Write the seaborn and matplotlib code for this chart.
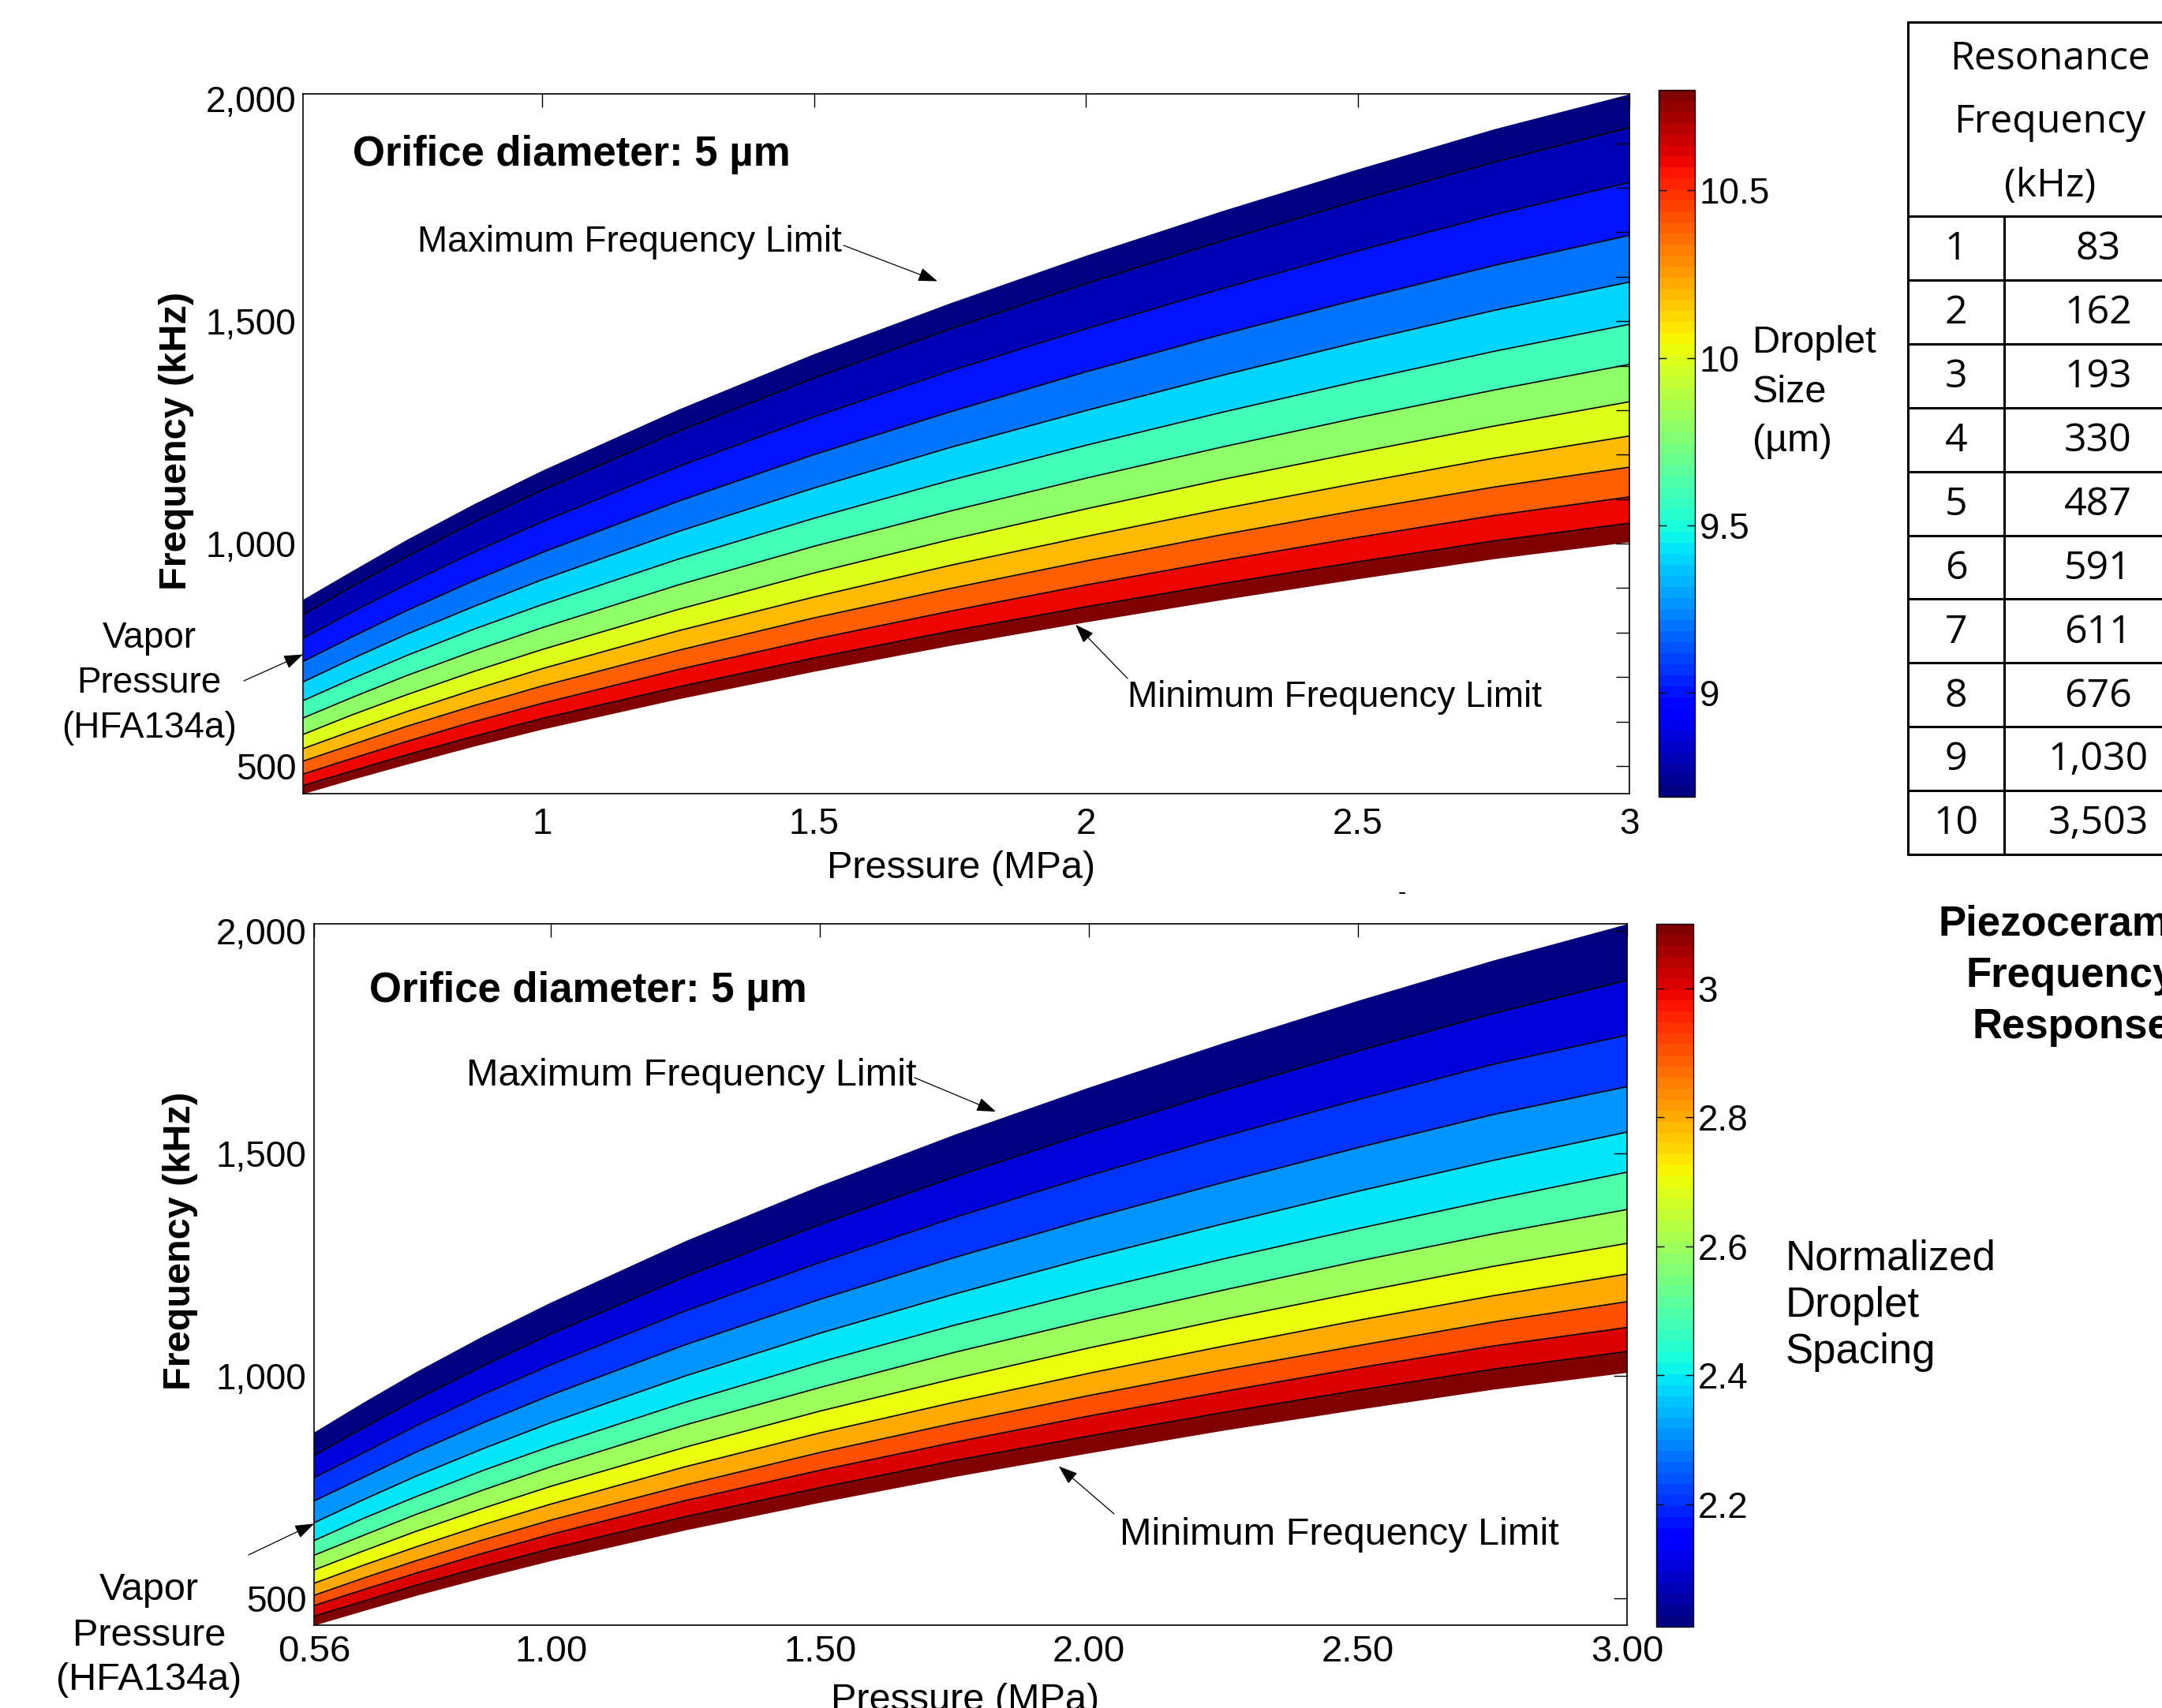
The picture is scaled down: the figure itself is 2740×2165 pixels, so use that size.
import matplotlib
matplotlib.use("Agg")
import matplotlib as mpl
import matplotlib.pyplot as plt
from matplotlib.lines import Line2D
from matplotlib.ticker import MultipleLocator, FuncFormatter
import seaborn as sns

# ---------------- data ----------------
pressure_mpa = [0.56, 0.65, 0.75, 0.875, 1.0, 1.25, 1.5, 1.75, 2.0, 2.25, 2.5, 2.75, 3.0]

# Droplet-size map: band boundaries (kHz), from max-frequency limit down to min-frequency limit
size_curves_khz = [
    [875, 939, 1009, 1090, 1165, 1302, 1427, 1541, 1648, 1748, 1842, 1932, 2011],
    [840, 903, 970, 1048, 1120, 1252, 1372, 1482, 1584, 1680, 1771, 1857, 1935],
    [787, 846, 908, 981, 1049, 1173, 1285, 1388, 1483, 1573, 1658, 1739, 1812],
    [735, 790, 849, 917, 980, 1095, 1200, 1296, 1386, 1470, 1549, 1625, 1693],
    [689, 741, 796, 859, 919, 1027, 1125, 1216, 1299, 1378, 1453, 1524, 1588],
    [647, 696, 748, 808, 863, 965, 1057, 1142, 1221, 1295, 1365, 1432, 1493],
    [608, 654, 703, 759, 811, 907, 994, 1073, 1147, 1217, 1283, 1345, 1403],
    [571, 615, 660, 713, 762, 852, 934, 1009, 1078, 1144, 1205, 1264, 1319],
    [539, 579, 622, 672, 719, 804, 880, 951, 1016, 1078, 1136, 1192, 1242],
    [511, 548, 589, 636, 680, 760, 833, 899, 961, 1020, 1075, 1127, 1172],
    [482, 517, 555, 600, 641, 717, 785, 848, 907, 962, 1014, 1063, 1105],
    [456, 489, 525, 567, 607, 678, 743, 803, 858, 910, 959, 1006, 1046],
    [438, 470, 504, 545, 583, 651, 713, 771, 824, 874, 921, 966, 1004],
]
size_band_values = [8.69, 8.8, 9.0, 9.2, 9.4, 9.6, 9.8, 10.0, 10.2, 10.4, 10.6, 10.8]
size_clim = [8.69, 10.80]
size_cbar_ticks = [9, 9.5, 10, 10.5]

# Normalized droplet-spacing map
spacing_curves_khz = [
    [874, 940, 1010, 1091, 1166, 1304, 1428, 1543, 1649, 1749, 1844, 1934, 2016],
    [821, 882, 947, 1023, 1094, 1223, 1340, 1447, 1547, 1641, 1730, 1814, 1889],
    [771, 826, 888, 959, 1025, 1146, 1255, 1356, 1450, 1538, 1621, 1700, 1766],
    [719, 771, 829, 895, 957, 1070, 1172, 1266, 1353, 1435, 1513, 1587, 1650],
    [670, 721, 775, 837, 895, 1000, 1096, 1184, 1266, 1342, 1415, 1484, 1548],
    [630, 679, 729, 788, 842, 941, 1031, 1114, 1191, 1263, 1331, 1396, 1458],
    [597, 641, 689, 744, 796, 890, 974, 1053, 1125, 1193, 1258, 1319, 1374],
    [564, 606, 651, 703, 752, 840, 921, 994, 1063, 1127, 1188, 1246, 1298],
    [534, 574, 616, 666, 712, 796, 872, 941, 1006, 1067, 1125, 1180, 1229],
    [507, 545, 585, 632, 676, 755, 828, 894, 956, 1014, 1068, 1121, 1167],
    [484, 519, 557, 602, 644, 720, 788, 851, 910, 965, 1018, 1067, 1109],
    [460, 493, 530, 572, 612, 684, 749, 810, 865, 918, 968, 1015, 1055],
    [440, 472, 507, 547, 585, 654, 716, 774, 827, 878, 925, 970, 1008],
]
spacing_band_values = [2.01, 2.1, 2.2, 2.3, 2.4, 2.5, 2.6, 2.7, 2.8, 2.9, 3.0, 3.1]
spacing_clim = [2.01, 3.10]
spacing_cbar_ticks = [2.2, 2.4, 2.6, 2.8, 3.0]

top_xticks = [1, 1.5, 2, 2.5, 3]
bottom_xticks = [0.56, 1.0, 1.5, 2.0, 2.5, 3.0]
bottom_yticks = [500, 1000, 1500, 2000]

table_header = ["Resonance", "Frequency", "(kHz)"]
table_mode = [1, 2, 3, 4, 5, 6, 7, 8, 9, 10]
table_freq = ["83", "162", "193", "330", "487", "591", "611", "676", "1,030", "3,503"]

# ---------------- style ----------------
sns.set_style("white")
plt.rcParams["font.family"] = ["Liberation Sans", "DejaVu Sans"]
plt.rcParams.update({
    "axes.edgecolor": "black", "text.color": "black", "axes.labelcolor": "black",
    "xtick.color": "black", "ytick.color": "black",
})

W, H = 2740, 2165
fig = plt.figure(figsize=(W / 100, H / 100), dpi=100)
fig.patch.set_facecolor("white")


def rect(x0, y0, x1, y1):
    return [x0 / W, 1 - y1 / H, (x1 - x0) / W, (y1 - y0) / H]


def ftext(x, y, s, **kw):
    return fig.text(x / W, 1 - y / H, s, **kw)


cmap = mpl.colormaps["jet"].resampled(64)

ax1 = fig.add_axes(rect(384, 119, 2065, 1006))
cax1 = fig.add_axes(rect(2102, 114, 2148, 1010))
ax2 = fig.add_axes(rect(398, 1171, 2062, 2060))
cax2 = fig.add_axes(rect(2099, 1171, 2146, 2062))


def draw_map(ax, cax, curves, band_values, clim, cticks):
    norm = mpl.colors.Normalize(vmin=clim[0], vmax=clim[1])
    for k in range(len(curves) - 1):
        ax.fill_between(pressure_mpa, curves[k + 1], curves[k],
                        color=cmap(norm(band_values[k])), linewidth=0, zorder=1)
    for k in range(1, len(curves) - 1):
        sns.lineplot(x=pressure_mpa, y=curves[k], ax=ax, color="black",
                     linewidth=1.2, legend=False, zorder=2, estimator=None, sort=False)
    ax.set_xlim(pressure_mpa[0], pressure_mpa[-1])
    ax.set_ylim(min(curves[-1]), max(curves[0]))
    ax.set_axisbelow(False)
    for sp in ax.spines.values():
        sp.set_linewidth(1.2)
        sp.set_color("black")
    sm = mpl.cm.ScalarMappable(norm=norm, cmap=cmap)
    cb = fig.colorbar(sm, cax=cax)
    cb.set_ticks(cticks)
    cb.set_ticklabels([f"{t:g}" for t in cticks])
    cax.set_axisbelow(False)
    cb.ax.tick_params(direction="in", left=True, right=True, length=7, width=1,
                      labelsize=33, pad=4)
    cb.outline.set_linewidth(1.0)
    return cb


draw_map(ax1, cax1, size_curves_khz, size_band_values, size_clim, size_cbar_ticks)
draw_map(ax2, cax2, spacing_curves_khz, spacing_band_values, spacing_clim, spacing_cbar_ticks)

# ---- axis ticks ----
ax1.set_xticks(top_xticks)
ax1.set_xticklabels([f"{t:g}" for t in top_xticks])
ax1.yaxis.set_major_locator(MultipleLocator(100))
ax1.yaxis.set_major_formatter(FuncFormatter(lambda v, p: f"{int(round(v)):,}" if round(v) % 500 == 0 else ""))
ax1.tick_params(axis="both", direction="in", top=True, right=True, length=12, width=1)
ax1.tick_params(axis="x", labelsize=33, pad=12)
ax1.tick_params(axis="y", labelsize=33, pad=6)

ax2.set_xticks(bottom_xticks)
ax2.set_xticklabels([f"{t:.2f}" for t in bottom_xticks])
ax2.set_yticks(bottom_yticks)
ax2.set_yticklabels([f"{t:,}" for t in bottom_yticks])
ax2.tick_params(axis="both", direction="in", top=True, right=True, length=12, width=1)
ax2.tick_params(axis="x", labelsize=34, pad=9)
ax2.tick_params(axis="y", labelsize=33, pad=7)

# ---- axis labels ----
ax1.set_ylabel("Frequency (kHz)", fontsize=35, fontweight="bold", va="center")
ax1.yaxis.set_label_coords(-0.0952, 0.504)
ax1.set_xlabel("Pressure (MPa)", fontsize=35, va="center")
ax1.xaxis.set_label_coords(0.496, -0.106)
ax2.set_ylabel("Frequency (kHz)", fontsize=35, fontweight="bold", va="center")
ax2.yaxis.set_label_coords(-0.1016, 0.548)
ax2.set_xlabel("Pressure (MPa)", fontsize=35, va="center")
ax2.xaxis.set_label_coords(0.4958, -0.1075)

# ---- in-plot annotations ----
ftext(447, 196, "Orifice diameter: 5 µm", fontsize=38, fontweight="bold", ha="left", va="center")
ftext(468, 1256, "Orifice diameter: 5 µm", fontsize=38, fontweight="bold", ha="left", va="center")
ftext(529, 307, "Maximum Frequency Limit", fontsize=33, ha="left", va="center")
ftext(591, 1363, "Maximum Frequency Limit", fontsize=35, ha="left", va="center")
ftext(1429, 884, "Minimum Frequency Limit", fontsize=33, ha="left", va="center")
ftext(1419, 1945, "Minimum Frequency Limit", fontsize=35, ha="left", va="center")

for y0, fs in ((809, 33), (2016, 35)):
    for i, s in enumerate(["Vapor", "Pressure", "(HFA134a)"]):
        ftext(189, y0 + i * 57, s, fontsize=fs, ha="center", va="center")

arrow_kw = dict(arrowstyle="-|>,head_length=0.5,head_width=0.18", color="black",
                lw=0.9, mutation_scale=30, shrinkA=0, shrinkB=0)


def arrow(ax, tip, tail_px):
    ax.annotate("", xy=tip, xycoords="data",
                xytext=(tail_px[0], H - tail_px[1]), textcoords="figure pixels",
                arrowprops=arrow_kw, annotation_clip=False)


arrow(ax1, (1.727, 1590), (1069, 311))
arrow(ax1, (1.981, 818), (1429, 860))
arrow(ax1, (0.56, 751), (309, 863))
arrow(ax2, (1.827, 1594), (1159, 1366))
arrow(ax2, (1.944, 797), (1412, 1919))
arrow(ax2, (0.56, 668), (315, 1971))

# ---- colorbar titles ----
for i, s in enumerate(["Droplet", "Size", "(µm)"]):
    ftext(2221, 435 + i * 62, s, fontsize=35, ha="left", va="center")
for i, s in enumerate(["Normalized", "Droplet", "Spacing"]):
    ftext(2263, 1595 + i * 59.5, s, fontsize=38, ha="left", va="center")
for i, s in enumerate(["Piezoceramic", "Frequency", "Response"]):
    ftext(2625, 1171 + i * 65.5, s, fontsize=38, fontweight="bold", ha="center", va="center")
ftext(1777, 1132, "-", fontsize=22, ha="center", va="center")

# ---- resonance table ----
tab_left, tab_div, tab_top, tab_head = 2418, 2540, 28, 274
row_h = 80.9


def hline(y, x0, x1):
    fig.add_artist(Line2D([x0 / W, x1 / W], [1 - y / H, 1 - y / H], color="black", lw=2.2,
                          transform=fig.transFigure))


def vline(x, y0, y1):
    fig.add_artist(Line2D([x / W, x / W], [1 - y0 / H, 1 - y1 / H], color="black", lw=2.2,
                          transform=fig.transFigure))


tab_bottom = tab_head + row_h * len(table_mode)
hline(tab_top, tab_left, W)
hline(tab_head, tab_left, W)
vline(tab_left, tab_top, tab_bottom)
vline(tab_div, tab_head, tab_bottom)
for i in range(1, len(table_mode) + 1):
    hline(tab_head + row_h * i, tab_left, W)

tfont = ["Open Sans", "DejaVu Sans"]
for i, s in enumerate(table_header):
    ftext(2598, 75 + i * 80.5, s, fontsize=36, family=tfont, ha="center", va="center")
for i, (m, f) in enumerate(zip(table_mode, table_freq)):
    yc = tab_head + row_h * (i + 0.5) + 2
    ftext(2479, yc, str(m), fontsize=36, family=tfont, ha="center", va="center")
    ftext(2659, yc, f, fontsize=36, family=tfont, ha="center", va="center")

fig.savefig("out.png", dpi=100, facecolor="white")
